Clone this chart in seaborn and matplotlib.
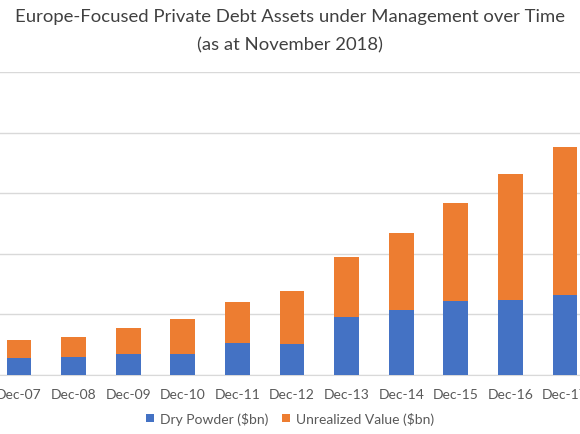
import pandas as pd
import seaborn as sns
import matplotlib.pyplot as plt

# Values (y axis labels are cropped out, units approx $bn)
periods = ["Dec-07", "Dec-08", "Dec-09", "Dec-10", "Dec-11", "Dec-12",
           "Dec-13", "Dec-14", "Dec-15", "Dec-16", "Dec-17"]
dry_powder = [14.0, 14.9, 17.3, 17.3, 26.4, 25.6, 47.9, 53.6, 61.0, 62.0, 66.0]
unrealized = [14.9, 16.5, 21.5, 28.9, 33.8, 43.7, 49.5, 63.6, 80.9, 103.8, 122.1]

df = pd.DataFrame({"Period": periods, "Dry": dry_powder, "Unrealized": unrealized})
df["Total"] = df["Dry"] + df["Unrealized"]

sns.set_style("white")
plt.rcParams["font.family"] = ["Lato", "DejaVu Sans"]

blue = "#4472C4"
orange = "#ED7D31"
text_grey = "#595959"

fig = plt.figure(figsize=(5.8, 4.35), dpi=100)
ax = fig.add_axes([-0.0143, 0.1356, 1.0355, 0.6966])

# stacked: draw totals first, then the dry powder part on top of it
sns.barplot(data=df, x="Period", y="Total", order=periods, color=orange,
            saturation=1, width=0.455, ax=ax, label="Unrealized Value ($bn)", zorder=2)
sns.barplot(data=df, x="Period", y="Dry", order=periods, color=blue,
            saturation=1, width=0.455, ax=ax, label="Dry Powder ($bn)", zorder=3)
for p in ax.patches:
    p.set_edgecolor("none")

handles, labels = ax.get_legend_handles_labels()
if ax.get_legend() is not None:
    ax.get_legend().remove()

ax.set_ylim(0, 250)
ax.set_xlim(-0.5, 10.5)
ax.set_yticks(range(0, 251, 50))
ax.set_yticklabels([])
ax.grid(axis="y", color="#D9D9D9", linewidth=1, zorder=0)
ax.set_axisbelow(True)
for s in ["top", "right", "left"]:
    ax.spines[s].set_visible(False)
ax.spines["bottom"].set_color("#D9D9D9")
ax.tick_params(axis="x", length=0, labelsize=10, colors=text_grey, pad=9)
ax.tick_params(axis="y", length=0)
ax.set_xlabel("")
ax.set_ylabel("")

order = [labels.index("Dry Powder ($bn)"), labels.index("Unrealized Value ($bn)")]
fig.legend([handles[i] for i in order], [labels[i] for i in order],
           loc="center", bbox_to_anchor=(0.5, 0.036), ncol=2, frameon=False,
           fontsize=10, labelcolor=text_grey, handlelength=0.6, handleheight=0.6,
           handletextpad=0.4, columnspacing=1.0)

fig.text(0.5, 0.962, "Europe-Focused Private Debt Assets under Management over Time",
         ha="center", va="center", fontsize=13.3, color="#404040")
fig.text(0.5, 0.895, "(as at November 2018)",
         ha="center", va="center", fontsize=13.3, color="#404040")

fig.savefig("out.png", dpi=100)
